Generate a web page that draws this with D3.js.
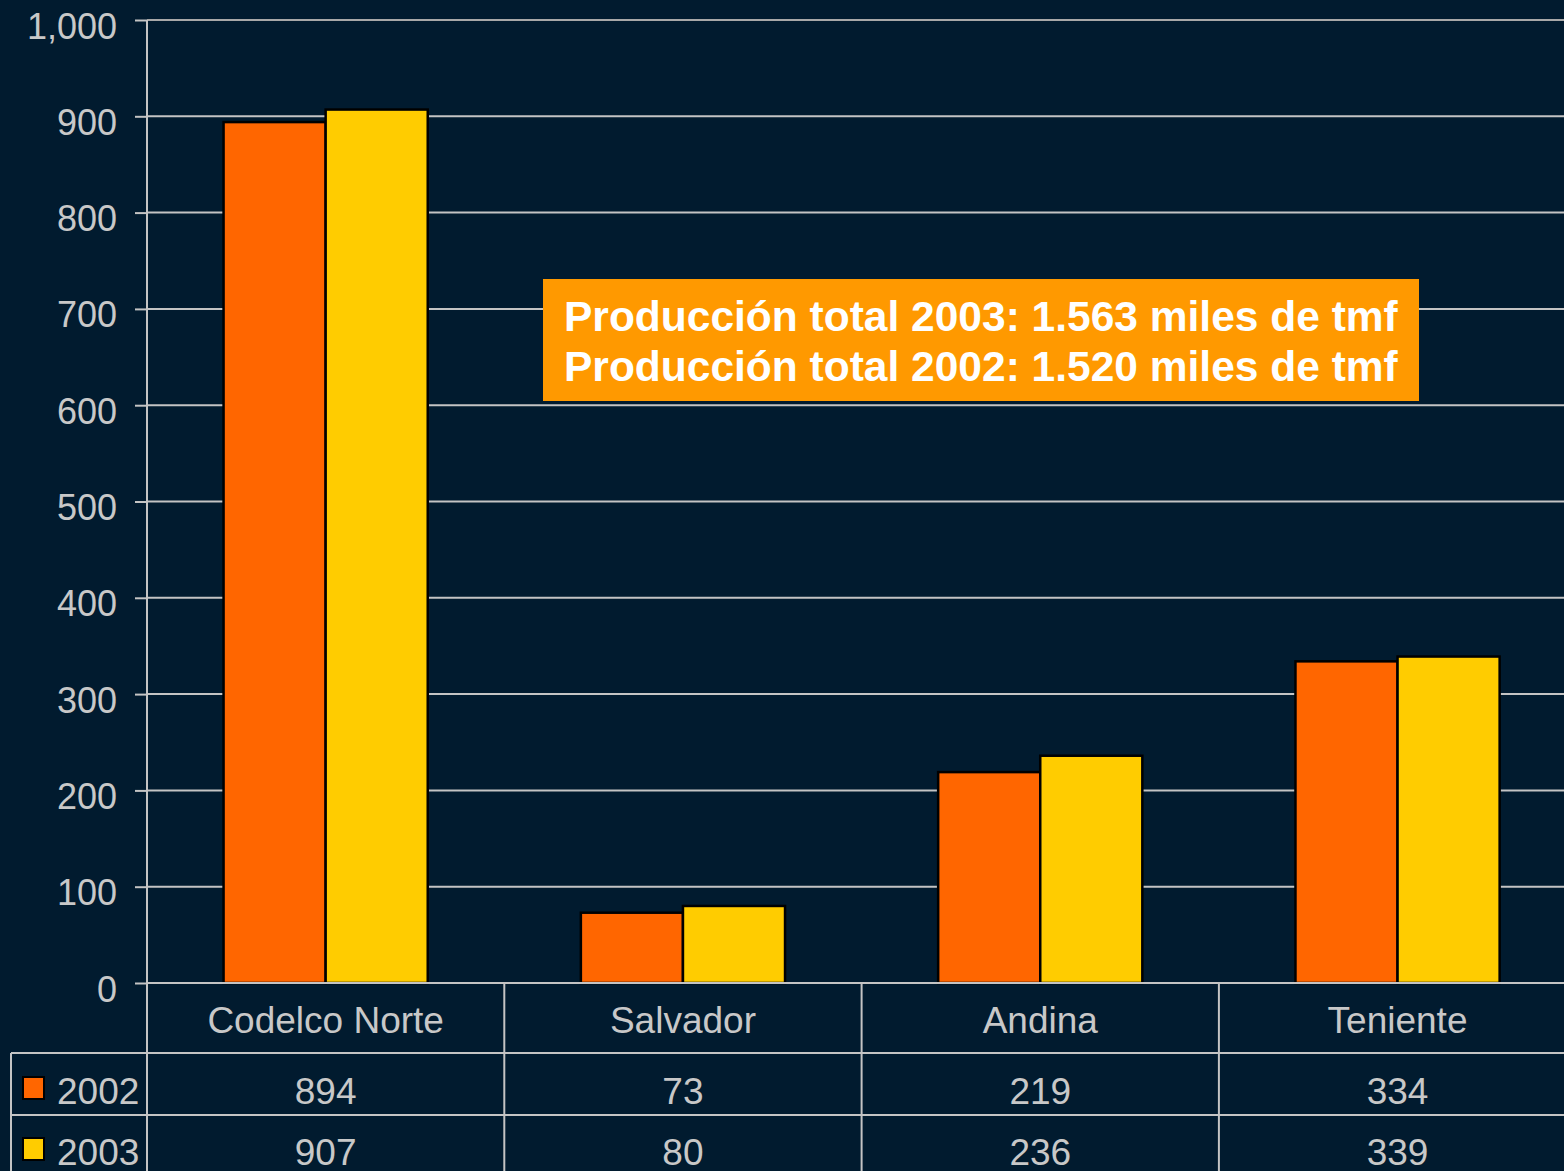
<!DOCTYPE html>
<html>
<head>
<meta charset="utf-8">
<script src="https://cdn.jsdelivr.net/npm/d3@7"></script>
<style>
  html, body { margin: 0; padding: 0; background: #011b2f; overflow: hidden; }
  text { font-family: "Liberation Sans", Arial, sans-serif; }
</style>
</head>
<body>
<div id="plot"></div>
<script>
var categories = ["Codelco Norte", "Salvador", "Andina", "Teniente"];
var seriesNames = ["2002", "2003"];
var values2002 = [894, 73, 219, 334];
var values2003 = [907, 80, 236, 339];
var yTicks = [0, 100, 200, 300, 400, 500, 600, 700, 800, 900, 1000];
var noteLines = ["Producción total 2003: 1.563 miles de tmf",
                 "Producción total 2002: 1.520 miles de tmf"];

var W = 1564, H = 1171;
var colors = {"2002": "#ff6600", "2003": "#ffcc00"};
var gridColor = "#c4c4c4", textColor = "#c8c8c8";

var data = categories.map(function(c, i) {
    return {cat: c, vals: [{s: "2002", v: values2002[i]}, {s: "2003", v: values2003[i]}]};
});

var svg = d3.select("#plot").append("svg")
    .attr("width", W).attr("height", H);

var plotLeft = 147, plotTop = 20, plotBottom = 983;

var x = d3.scaleBand()
    .domain(categories)
    .range([plotLeft, plotLeft + 4 * 357.3])
    .padding(0);

var x1 = d3.scaleBand()
    .domain(seriesNames)
    .range([0, x.bandwidth()])
    .paddingInner(0)
    .paddingOuter(0.75);

var y = d3.scaleLinear().domain([0, 1000]).range([plotBottom, plotTop]);

// gridlines
svg.append("g").selectAll("line")
    .data(yTicks.filter(function(d) { return d > 0; }))
    .enter().append("line")
    .attr("x1", plotLeft).attr("x2", W)
    .attr("y1", function(d) { return y(d); })
    .attr("y2", function(d) { return y(d); })
    .attr("stroke", function(d) { return d === 1000 ? "#a8a8a8" : gridColor; })
    .attr("stroke-width", 2);

// y axis
var yAxis = d3.axisLeft(y).tickValues(yTicks).tickSize(12).tickPadding(18)
    .tickFormat(d3.format(","));
var ya = svg.append("g")
    .attr("transform", "translate(" + plotLeft + ",0)")
    .call(yAxis);
ya.select(".domain").remove();
ya.selectAll(".tick line").attr("stroke", gridColor).attr("stroke-width", 2);
ya.selectAll(".tick text")
    .attr("fill", textColor)
    .style("font-size", "36px")
    .attr("dy", "0.5em");

// bars
var groups = svg.append("g").selectAll("g")
    .data(data)
    .enter().append("g")
    .attr("transform", function(d) { return "translate(" + x(d.cat) + ",0)"; });

groups.selectAll("rect")
    .data(function(d) { return d.vals; })
    .enter().append("rect")
    .attr("x", function(d) { return x1(d.s); })
    .attr("width", x1.bandwidth())
    .attr("y", function(d) { return y(d.v); })
    .attr("height", function(d) { return y(0) - y(d.v); })
    .attr("fill", function(d) { return colors[d.s]; })
    .attr("stroke", "#000")
    .attr("stroke-width", 2.5);

// axis lines and data table
var row1 = 1053, row2 = 1115;
var tbl = svg.append("g").attr("stroke", gridColor).attr("stroke-width", 2);
tbl.append("line").attr("x1", plotLeft).attr("x2", W).attr("y1", plotBottom).attr("y2", plotBottom);
tbl.append("line").attr("x1", plotLeft).attr("x2", plotLeft).attr("y1", plotTop).attr("y2", H);
tbl.append("line").attr("x1", 11).attr("x2", W).attr("y1", row1).attr("y2", row1);
tbl.append("line").attr("x1", 11).attr("x2", W).attr("y1", row2).attr("y2", row2);
tbl.append("line").attr("x1", 11).attr("x2", 11).attr("y1", row1).attr("y2", H);
categories.slice(1).forEach(function(c) {
    tbl.append("line").attr("x1", x(c)).attr("x2", x(c)).attr("y1", plotBottom).attr("y2", H);
});

// category labels
svg.append("g").selectAll("text")
    .data(categories)
    .enter().append("text")
    .attr("x", function(d) { return x(d) + x.bandwidth() / 2; })
    .attr("y", 1033)
    .attr("text-anchor", "middle")
    .attr("fill", textColor)
    .style("font-size", "37px")
    .text(function(d) { return d; });

// value rows
var rowY = [1104, 1165];
[values2002, values2003].forEach(function(vals, r) {
    svg.append("g").selectAll("text")
        .data(vals)
        .enter().append("text")
        .attr("x", function(d, i) { return x(categories[i]) + x.bandwidth() / 2; })
        .attr("y", rowY[r])
        .attr("text-anchor", "middle")
        .attr("fill", textColor)
        .style("font-size", "37px")
        .text(function(d) { return d; });
});

// legend keys
var legend = svg.append("g").selectAll("g")
    .data(seriesNames)
    .enter().append("g")
    .attr("transform", function(d, i) { return "translate(0," + rowY[i] + ")"; });
legend.append("rect")
    .attr("x", 23).attr("y", -27)
    .attr("width", 21).attr("height", 22)
    .attr("fill", function(d) { return colors[d]; })
    .attr("stroke", "#000").attr("stroke-width", 2);
legend.append("text")
    .attr("x", 57).attr("y", 0)
    .attr("fill", textColor)
    .style("font-size", "37px")
    .text(function(d) { return d; });

// note box
var note = svg.append("g");
note.append("rect")
    .attr("x", 543).attr("y", 279)
    .attr("width", 876).attr("height", 122)
    .attr("fill", "#ff9900");
note.selectAll("text")
    .data(noteLines)
    .enter().append("text")
    .attr("x", 564)
    .attr("y", function(d, i) { return 331 + i * 50; })
    .attr("fill", "#fff")
    .style("font-size", "42.5px")
    .style("font-weight", "bold")
    .text(function(d) { return d; });
</script>
</body>
</html>
